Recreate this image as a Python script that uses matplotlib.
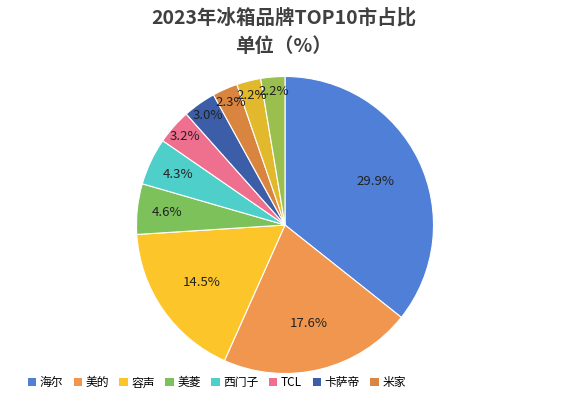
import numpy as np
import matplotlib.pyplot as plt
from matplotlib.patches import Patch

plt.rcParams['font.family'] = ['Noto Sans CJK SC', 'DejaVu Sans']

brands = ['海尔', '美的', '容声', '美菱', '西门子', 'TCL', '卡萨帝', '米家', '其他1', '其他2']
shares = [29.9, 17.6, 14.5, 4.6, 4.3, 3.2, 3.0, 2.3, 2.2, 2.2]
colors = ['#4f7fd6', '#f0964f', '#fcc52a', '#7cc15a', '#4ecfc9', '#ef6f8e',
          '#3c5ea8', '#d9843f', '#e2b92c', '#9bbf4f']

fig = plt.figure(figsize=(5.67, 4.0), dpi=100)
# pie: center ~ (285, 225) px, radius ~ 148 px
ax = fig.add_axes([(285 - 150) / 567, 1 - (225 + 150) / 400, 300 / 567, 300 / 400])

wedges, _ = ax.pie(shares, colors=colors, startangle=90, counterclock=False,
                   wedgeprops=dict(edgecolor='white', linewidth=0.8))
ax.set_aspect('equal')
ax.set_xlim(-1.01, 1.01)
ax.set_ylim(-1.01, 1.01)

for w, v in zip(wedges, shares):
    ang = np.deg2rad((w.theta1 + w.theta2) / 2)
    r = 0.68 if v > 10 else (0.8 if v > 4 else 0.9)
    ax.text(r * np.cos(ang), r * np.sin(ang), f'{v:.1f}%', ha='center', va='center',
            fontsize=9.5, color='#222222')

fig.text(0.5, 0.955, '2023年冰箱品牌TOP10市占比', ha='center', va='center',
         fontsize=14, fontweight='bold', color='#404040')
fig.text(0.5, 0.885, '单位（%）', ha='center', va='center',
         fontsize=14, fontweight='bold', color='#404040')

handles = [Patch(facecolor=c) for c in colors[:8]]
fig.legend(handles, brands[:8], loc='lower left', ncol=8, frameon=False,
           fontsize=8.5, handlelength=0.7, handleheight=0.7, handletextpad=0.3,
           columnspacing=0.9, bbox_to_anchor=(0.03, 0.0))

fig.savefig('out.png', dpi=100)
